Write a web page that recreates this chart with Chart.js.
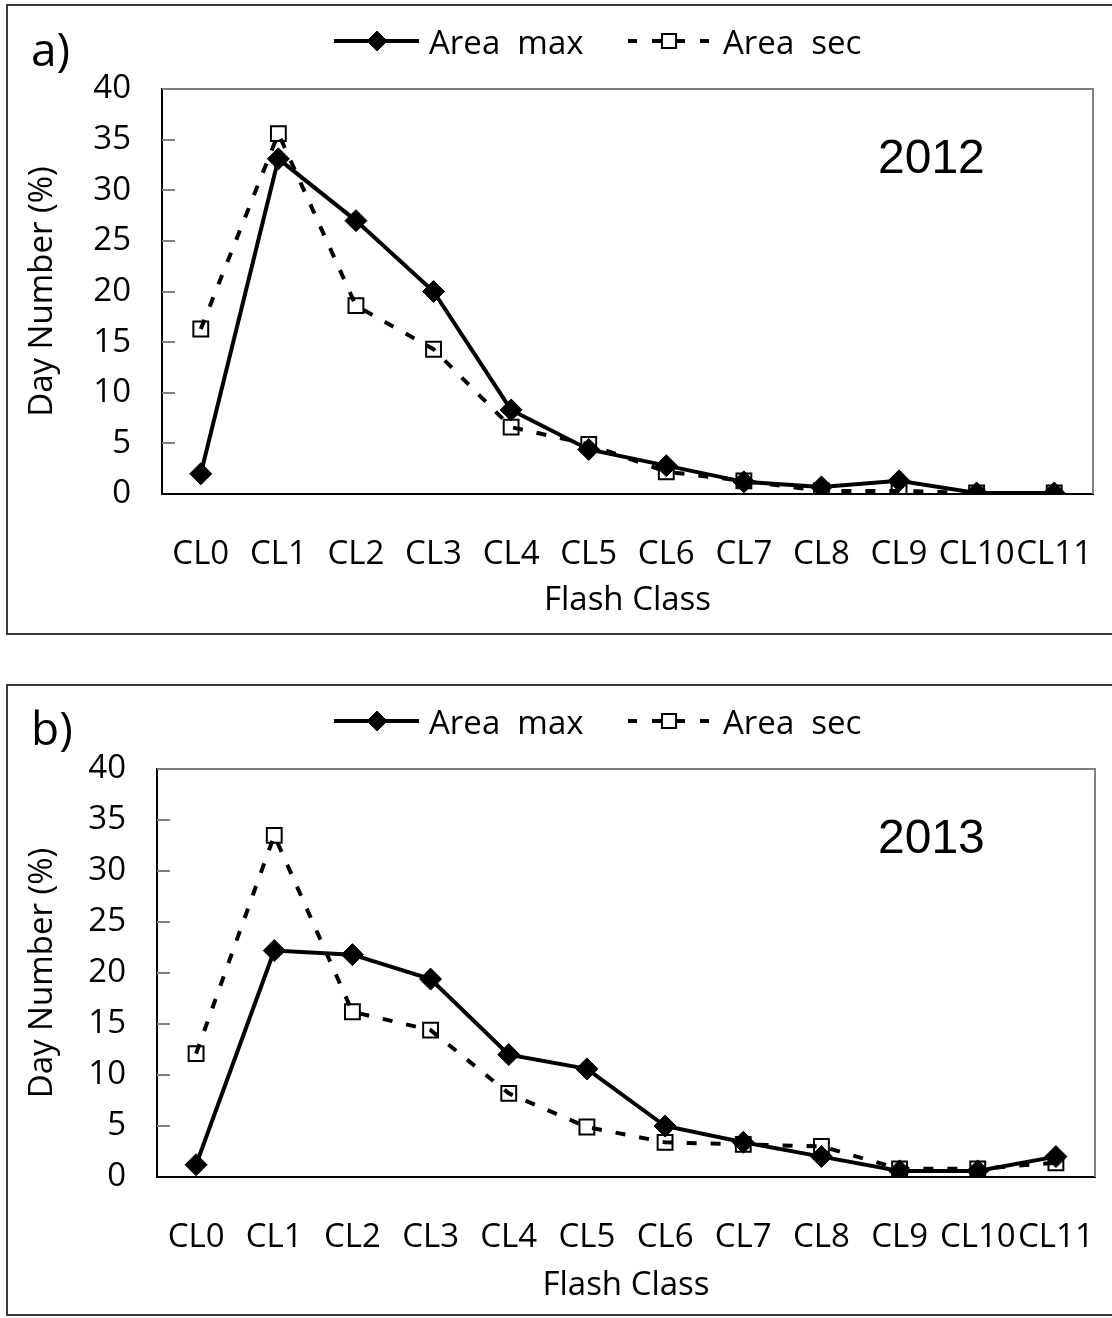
<!DOCTYPE html>
<html><head><meta charset="utf-8">
<script src="https://cdn.jsdelivr.net/npm/chart.js@4.4.0/dist/chart.umd.min.js"></script>
<style>
html,body{margin:0;padding:0;background:#fff;}
body{width:1112px;height:1318px;position:relative;overflow:hidden;}
.box{position:absolute;border:2px solid #3a3a3a;box-sizing:border-box;}
canvas{position:absolute;left:0;}
</style></head><body>
<div class="box" style="left:6px;top:4px;width:1112px;height:631px;"></div>
<div class="box" style="left:6px;top:684px;width:1112px;height:632px;"></div>
<canvas id="c1" style="top:0px" width="1112" height="650"></canvas>
<canvas id="c2" style="top:681px" width="1112" height="637"></canvas>
<script>
const categories = ['CL0','CL1','CL2','CL3','CL4','CL5','CL6','CL7','CL8','CL9','CL10','CL11'];
const areaMax2012 = [2.0, 33.1, 27.0, 20.0, 8.3, 4.4, 2.8, 1.2, 0.7, 1.3, 0.1, 0.1];
const areaSec2012 = [16.3, 35.6, 18.6, 14.3, 6.6, 4.9, 2.2, 1.3, 0.3, 0.3, 0.1, 0.1];
const areaMax2013 = [1.2, 22.2, 21.8, 19.4, 12.0, 10.6, 5.0, 3.4, 2.0, 0.6, 0.6, 2.0];
const areaSec2013 = [12.1, 33.5, 16.2, 14.4, 8.2, 4.9, 3.4, 3.2, 3.0, 0.8, 0.8, 1.4];
const seriesNames = ['Area  max', 'Area  sec'];
const yTicks = [0, 5, 10, 15, 20, 25, 30, 35, 40];
const xTitle = 'Flash Class';
const yTitle = 'Day Number (%)';

const FONT = '"Open Sans", "DejaVu Sans", sans-serif';

const decor = {
  id: 'decor',
  beforeDatasetsDraw(chart) {
    const {ctx, chartArea: a, scales: {y}} = chart;
    ctx.save();
    ctx.strokeStyle = '#808080';
    ctx.lineWidth = 2;
    ctx.beginPath();
    ctx.moveTo(a.left, a.top); ctx.lineTo(a.right, a.top); ctx.lineTo(a.right, a.bottom);
    ctx.stroke();
    ctx.beginPath();
    yTicks.forEach(v => {
      if (v === 0) return;
      const py = Math.round(y.getPixelForValue(v));
      ctx.moveTo(a.left, py); ctx.lineTo(a.left + 13, py);
    });
    ctx.stroke();
    ctx.restore();
  },
  afterDraw(chart, args, o) {
    const {ctx} = chart;
    const ds = chart.data.datasets;
    ctx.save();
    ctx.fillStyle = '#000';
    ctx.strokeStyle = '#000';
    const ly = o.legendY;
    ctx.lineWidth = 4;
    ctx.setLineDash([]);
    ctx.beginPath(); ctx.moveTo(334, ly); ctx.lineTo(419, ly); ctx.stroke();
    ctx.lineWidth = 1;
    Chart.helpers.drawPoint(ctx, {pointStyle: 'rectRot', radius: 10, borderWidth: 1, rotation: 0}, 377, ly);
    ctx.lineWidth = 4;
    ctx.setLineDash([9, 15]);
    ctx.beginPath(); ctx.moveTo(628, ly); ctx.lineTo(710, ly); ctx.stroke();
    ctx.setLineDash([]);
    ctx.fillStyle = '#fff';
    ctx.lineWidth = 2;
    Chart.helpers.drawPoint(ctx, {pointStyle: 'rect', radius: 10, borderWidth: 2, rotation: 0}, 669, ly);
    ctx.fillStyle = '#000';
    ctx.font = '33px ' + FONT;
    ctx.textBaseline = 'alphabetic';
    ctx.textAlign = 'left';
    ctx.fillText(ds[0].label, 429, ly + 13);
    ctx.fillText(ds[1].label, 723, ly + 13);
    ctx.font = '46px ' + FONT;
    ctx.fillText(o.panel, 31, o.panelY);
    ctx.font = '48px "Liberation Sans", Arial, sans-serif';
    ctx.fillText(o.year, 878, o.yearY);
    ctx.restore();
  }
};

function makeChart(id, maxData, secData, g) {
  const canvas = document.getElementById(id);
  const H = canvas.height;
  return new Chart(canvas, {
    type: 'line',
    data: {
      labels: categories,
      datasets: [
        {label: seriesNames[0], data: maxData, borderColor: '#000', backgroundColor: '#000',
         borderWidth: 4, tension: 0, pointStyle: 'rectRot', pointRadius: 11, pointBorderWidth: 1,
         pointBackgroundColor: '#000', pointBorderColor: '#000'},
        {label: seriesNames[1], data: secData, borderColor: '#000', backgroundColor: 'rgba(0,0,0,0)',
         borderWidth: 4, borderDash: [10, 14], borderCapStyle: 'butt', tension: 0, pointStyle: 'rect', pointRadius: 10.5, pointBorderWidth: 2,
         pointBackgroundColor: 'rgba(0,0,0,0)', pointBorderColor: '#000'}
      ]
    },
    options: {
      responsive: false, animation: false, devicePixelRatio: 1,
      layout: {padding: {left: 0, right: 1112 - g.right, top: g.top, bottom: 0}},
      plugins: {
        legend: {display: false}, tooltip: {enabled: false},
        decor: {legendY: g.legendY, panel: g.panel, panelY: g.panelY, year: g.year, yearY: g.yearY}
      },
      scales: {
        x: {
          type: 'category', offset: true,
          grid: {display: false, drawTicks: false},
          border: {display: true, color: '#000', width: 2},
          ticks: {color: '#000', font: {family: FONT, size: 33}, padding: 41, maxRotation: 0, autoSkip: false},
          title: {display: true, text: xTitle, color: '#000', font: {family: FONT, size: 33},
                  padding: {top: 0, bottom: g.xTitlePad}},
          afterFit(s) { s.height = H - g.bottom; s.paddingLeft = 0; s.paddingRight = 0; }
        },
        y: {
          min: 0, max: 40,
          afterBuildTicks(s) { s.ticks = yTicks.map(v => ({value: v})); },
          grid: {display: false, drawTicks: false},
          border: {display: true, color: '#000', width: 2},
          ticks: {color: '#000', font: {family: FONT, size: 33}, padding: 31},
          title: {display: true, text: yTitle, color: '#000', font: {family: FONT, size: 33},
                  padding: {top: 23, bottom: 0}},
          afterFit(s) { s.width = g.left; s.paddingTop = 0; s.paddingBottom = 0; }
        }
      }
    },
    plugins: [decor]
  });
}

makeChart('c1', areaMax2012, areaSec2012,
  {left: 162, right: 1093, top: 89, bottom: 494, legendY: 41, panel: 'a)', panelY: 66, year: '2012', yearY: 173, xTitlePad: 30});
makeChart('c2', areaMax2013, areaSec2013,
  {left: 157, right: 1095, top: 88, bottom: 496, legendY: 40, panel: 'b)', panelY: 64, year: '2013', yearY: 172, xTitlePad: 13});
</script>
</body></html>
